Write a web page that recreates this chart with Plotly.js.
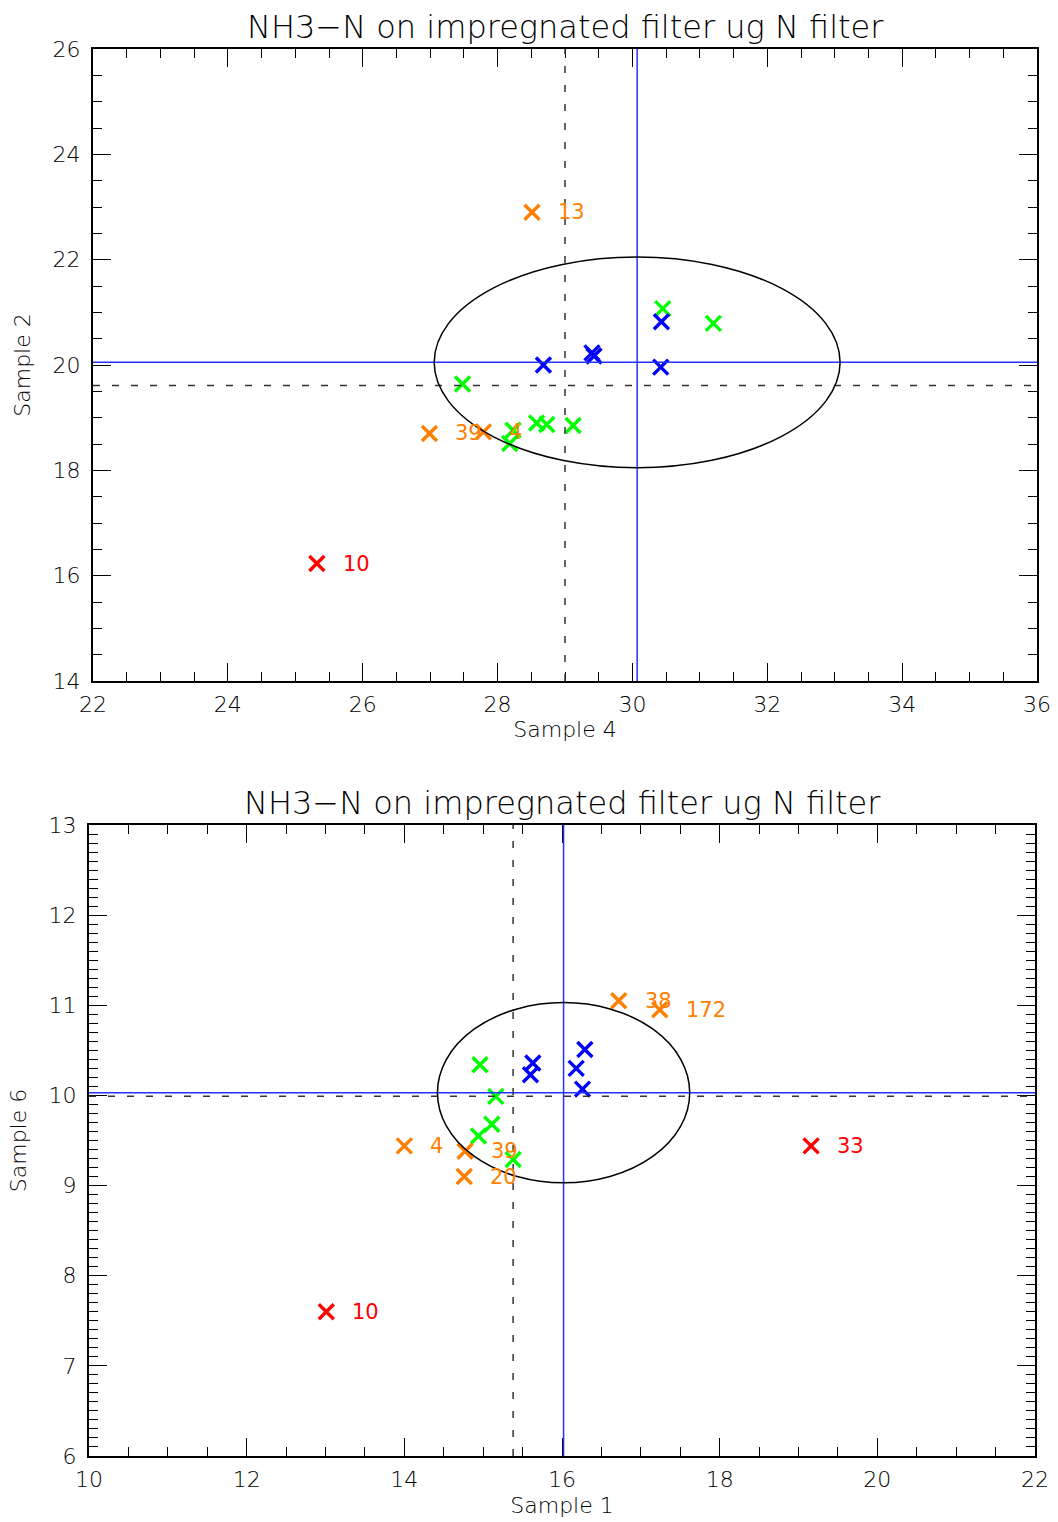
<!DOCTYPE html>
<html>
<head>
<meta charset="utf-8">
<script src="https://cdn.plot.ly/plotly-3.0.1.min.js"></script>
<style>
  html, body { margin: 0; padding: 0; background: #fff; }
  #chart { width: 1058px; height: 1522px; }
</style>
</head>
<body>
<div id="chart"></div>
<script>
// ---- Upper panel: Sample 4 (x) vs Sample 2 (y) ----
const blueS4 = [30.43, 29.40, 29.43, 28.68, 30.42];
const blueS2 = [20.82, 20.23, 20.17, 20.00, 19.96];
const greenS4 = [30.45, 31.20, 27.48, 28.23, 28.18, 28.58, 28.73, 29.12];
const greenS2 = [21.07, 20.79, 19.64, 18.76, 18.51, 18.90, 18.87, 18.85];
const orangeS4 = [28.51, 26.99, 27.79];
const orangeS2 = [22.90, 18.70, 18.73];
const orangeIdsTop = ['13', '39', '4'];
const redS4 = [25.32];
const redS2 = [16.23];
const redIdsTop = ['10'];
const meanTop = [30.07, 20.05];      // blue cross lines
const refTop = [29.00, 19.61];       // dashed cross lines
const ellTop = [3.01, 2.00];         // ellipse half-axes (x, y)

// ---- Lower panel: Sample 1 (x) vs Sample 6 (y) ----
const blueS1 = [16.29, 15.63, 15.60, 16.18, 16.26];
const blueS6 = [10.51, 10.36, 10.23, 10.30, 10.07];
const greenS1 = [14.96, 15.16, 15.11, 14.94, 15.38];
const greenS6 = [10.34, 9.99, 9.68, 9.55, 9.29];
const orangeS1 = [16.72, 17.24, 14.00, 14.77, 14.76];
const orangeS6 = [11.05, 10.95, 9.44, 9.38, 9.10];
const orangeIdsBot = ['38', '172', '4', '39', '20'];
const redS1 = [13.01, 19.16];
const redS6 = [7.60, 9.44];
const redIdsBot = ['10', '33'];
const meanBot = [16.02, 10.03];
const refBot = [15.38, 9.99];
const ellBot = [1.60, 1.00];

const titleText = 'NH3\u2212N on impregnated filter ug N filter';

const COL = { blue: '#0000ff', green: '#00ff00', orange: '#ff7f00', red: '#ff0000' };
const FONT = 'DejaVu Sans, Liberation Sans, sans-serif';
const FW = 200;

function crosses(x, y, color, xa, ya) {
  return {
    type: 'scatter', mode: 'markers', x: x, y: y, xaxis: xa, yaxis: ya,
    hoverinfo: 'skip', showlegend: false,
    marker: { symbol: 'x-thin', size: 15, color: color, line: { color: color, width: 3.4 } }
  };
}

const data = [
  crosses(greenS4, greenS2, COL.green, 'x', 'y'),
  crosses(blueS4, blueS2, COL.blue, 'x', 'y'),
  crosses(orangeS4, orangeS2, COL.orange, 'x', 'y'),
  crosses(redS4, redS2, COL.red, 'x', 'y'),
  crosses(greenS1, greenS6, COL.green, 'x2', 'y2'),
  crosses(blueS1, blueS6, COL.blue, 'x2', 'y2'),
  crosses(orangeS1, orangeS6, COL.orange, 'x2', 'y2'),
  crosses(redS1, redS6, COL.red, 'x2', 'y2')
];

function idLabels(xs, ys, ids, color, xa, ya) {
  return ids.map((t, i) => ({
    x: xs[i], y: ys[i], xref: xa, yref: ya, text: t, showarrow: false,
    xanchor: 'left', yanchor: 'middle', xshift: 24,
    font: { family: FONT, size: 21, color: color, weight: 400 }
  }));
}

function axisCommon(range, dtick, minorDtick, standoff) {
  return {
    range: range, dtick: dtick, tick0: range[0],
    showgrid: false, zeroline: false,
    showline: true, linecolor: '#000', linewidth: 2, mirror: 'allticks',
    ticks: 'inside', ticklen: 18, tickwidth: 1, tickcolor: '#000',
    minor: { dtick: minorDtick, ticks: 'inside', ticklen: 9, tickwidth: 1, tickcolor: '#000', showgrid: false },
    tickfont: { family: FONT, size: 22, color: '#000', weight: FW },
    ticklabelstandoff: standoff,
    fixedrange: true
  };
}

function crossLines(mean, ref, xa, ya, xr, yr) {
  return [
    { type: 'line', xref: xa, yref: ya, x0: mean[0], x1: mean[0], y0: yr[0], y1: yr[1], line: { color: '#2233ff', width: 1.5 } },
    { type: 'line', xref: xa, yref: ya, x0: xr[0], x1: xr[1], y0: mean[1], y1: mean[1], line: { color: '#2233ff', width: 1.5 } },
    { type: 'line', xref: xa, yref: ya, x0: ref[0], x1: ref[0], y0: yr[0], y1: yr[1], line: { color: '#333', width: 1.5, dash: '7px,12px' } },
    { type: 'line', xref: xa, yref: ya, x0: xr[0], x1: xr[1], y0: ref[1], y1: ref[1], line: { color: '#333', width: 1.5, dash: '7px,12px' } }
  ];
}

function ellipse(c, r, xa, ya) {
  return { type: 'circle', xref: xa, yref: ya, layer: 'above',
    x0: c[0] - r[0], x1: c[0] + r[0], y0: c[1] - r[1], y1: c[1] + r[1],
    line: { color: '#000', width: 1.5 } };
}

const xTopRange = [22, 36], yTopRange = [14, 26];
const xBotRange = [10, 22], yBotRange = [6, 13];
const axTitleFont = { family: FONT, size: 22, color: '#000', weight: FW };

const xaxis = Object.assign(axisCommon(xTopRange, 2, 0.5, 3), {
  domain: [93 / 1058, 1037 / 1058], anchor: 'y',
  title: { text: 'Sample 4', font: axTitleFont, standoff: 5 }
});
const yaxis = Object.assign(axisCommon(yTopRange, 2, 0.5, 6), {
  domain: [1 - 681 / 1522, 1 - 49 / 1522], anchor: 'x',
  title: { text: 'Sample 2', font: axTitleFont, standoff: 16 }
});
const xaxis2 = Object.assign(axisCommon(xBotRange, 2, 0.5, 3), {
  domain: [89 / 1058, 1035 / 1058], anchor: 'y2',
  title: { text: 'Sample 1', font: axTitleFont, standoff: 6 }
});
const yaxis2 = Object.assign(axisCommon(yBotRange, 1, 0.1, 6), {
  domain: [1 - 1456 / 1522, 1 - 825 / 1522], anchor: 'x2',
  title: { text: 'Sample 6', font: axTitleFont, standoff: 16 }
});

const titleFont = { family: FONT, size: 32, color: '#000', weight: FW };
const annotations = [
  { xref: 'paper', yref: 'paper', x: 565 / 1058, y: 1 - 27 / 1522, text: titleText, showarrow: false,
    xanchor: 'center', yanchor: 'middle', font: titleFont },
  { xref: 'paper', yref: 'paper', x: 562 / 1058, y: 1 - 803 / 1522, text: titleText, showarrow: false,
    xanchor: 'center', yanchor: 'middle', font: titleFont }
].concat(
  idLabels(orangeS4, orangeS2, orangeIdsTop, COL.orange, 'x', 'y'),
  idLabels(redS4, redS2, redIdsTop, COL.red, 'x', 'y'),
  idLabels(orangeS1, orangeS6, orangeIdsBot, COL.orange, 'x2', 'y2'),
  idLabels(redS1, redS6, redIdsBot, COL.red, 'x2', 'y2')
);

const shapes = [].concat(
  crossLines(meanTop, refTop, 'x', 'y', xTopRange, yTopRange),
  [ellipse(meanTop, ellTop, 'x', 'y')],
  crossLines(meanBot, refBot, 'x2', 'y2', xBotRange, yBotRange),
  [ellipse(meanBot, ellBot, 'x2', 'y2')]
);

const layout = {
  width: 1058, height: 1522,
  margin: { l: 0, r: 0, t: 0, b: 0 },
  paper_bgcolor: '#fff', plot_bgcolor: '#fff',
  showlegend: false,
  xaxis: xaxis, yaxis: yaxis, xaxis2: xaxis2, yaxis2: yaxis2,
  annotations: annotations,
  shapes: shapes
};

Plotly.newPlot('chart', data, layout, { staticPlot: true, displayModeBar: false });
</script>
</body>
</html>
